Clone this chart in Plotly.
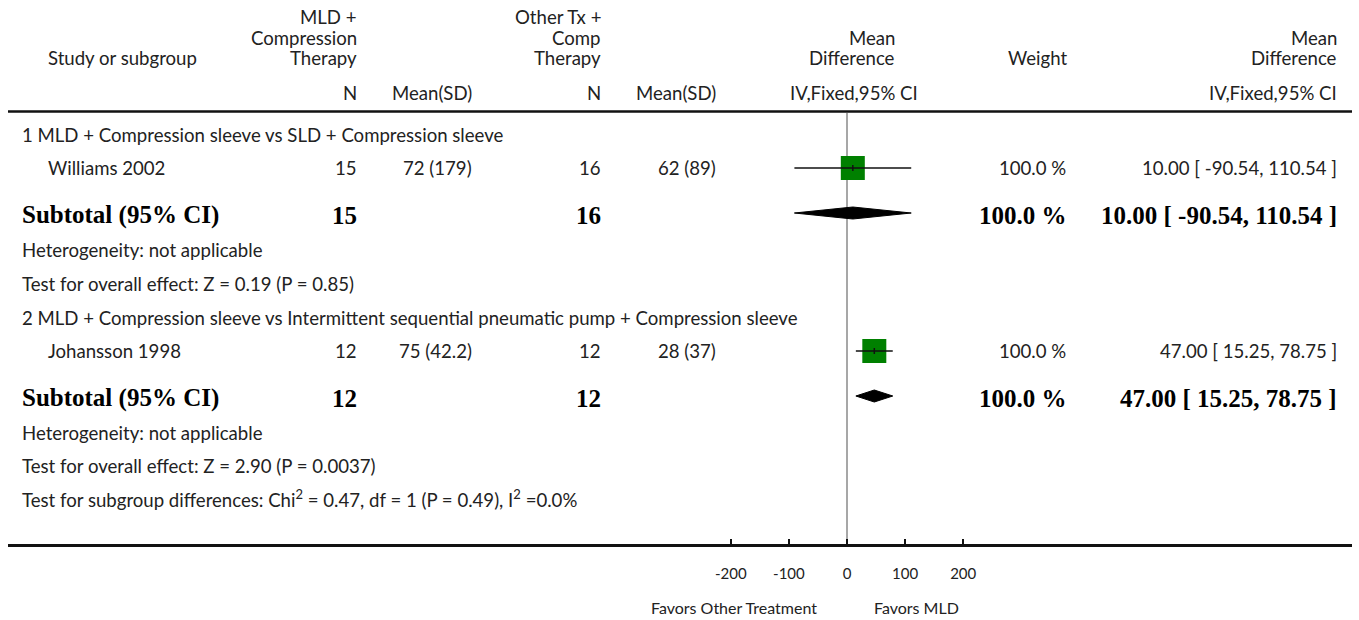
import plotly.graph_objects as go

# ---------------- data ----------------
subgroup_titles = [
    "1 MLD + Compression sleeve vs SLD + Compression sleeve",
    "2 MLD + Compression sleeve vs Intermittent sequential pneumatic pump + Compression sleeve",
]
studies = ["Williams 2002", "Johansson 1998"]
mld_n = [15, 12]
mld_mean = [72, 75]
mld_sd = [179, 42.2]
oth_n = [16, 12]
oth_mean = [62, 28]
oth_sd = [89, 37]
md = [10.00, 47.00]
ci_low = [-90.54, 15.25]
ci_high = [110.54, 78.75]
weights = [100.0, 100.0]
sub_md = [10.00, 47.00]
sub_low = [-90.54, 15.25]
sub_high = [110.54, 78.75]
heterogeneity = ["Heterogeneity: not applicable", "Heterogeneity: not applicable"]
overall = ["Test for overall effect: Z = 0.19 (P = 0.85)",
           "Test for overall effect: Z = 2.90 (P = 0.0037)"]
subgroup_test = "Test for subgroup differences: Chi<sup>2</sup> = 0.47, df = 1 (P = 0.49), I<sup>2</sup> =0.0%"
tick_vals = [-200, -100, 0, 100, 200]
tick_text = ["-200", "-100", "0", "100", "200"]
favors_left = "Favors Other Treatment"
favors_right = "Favors MLD"

# ---------------- layout constants ----------------
W, H = 1359, 620
ZERO_PX = 847
PX_PER_UNIT = 0.581
SANS = "Lato"
SERIF = "Liberation Serif"
TXT = "#222222"
FS = 18.6
FSB = 25
PAD = 2

# row pixel positions (layout)
row_title = [135, 318]
row_study = [168, 351]
row_sub = [213, 396]
row_het = [250, 433]
row_over = [284, 466]
row_test = 498
top_line_y = 111.5
axis_y = 545.5

fig = go.Figure()
ann = []


def px(x):
    return x / W


def py(y):
    return 1 - y / H


def text(x, y, s, anchor="left", font=SANS, size=FS, color=TXT, bold=False):
    if anchor == "left":
        x -= PAD
    elif anchor == "right":
        x += PAD
    ann.append(dict(x=px(x), y=py(y), xref="paper", yref="paper", text=s, showarrow=False,
                    xanchor=anchor, yanchor="middle",
                    font=dict(family=font, size=size, color=color,
                              weight="bold" if bold else "normal")))


def fmt(v):
    return f"{v:g}"


# header
text(48, 58, "Study or subgroup")
for i, line in enumerate(["MLD +", "Compression", "Therapy"]):
    text(357, 17 + 20.5 * i, line, anchor="right")
for i, line in enumerate(["Other Tx +", "Comp", "Therapy"]):
    text(601, 17 + 20.5 * i, line, anchor="right")
text(357, 93, "N", anchor="right")
text(472, 93, "Mean(SD)", anchor="right")
text(601, 93, "N", anchor="right")
text(716, 93, "Mean(SD)", anchor="right")
text(895, 38, "Mean", anchor="right")
text(895, 58, "Difference", anchor="right")
text(918, 93, "IV,Fixed,95% CI", anchor="right")
text(1067, 58, "Weight", anchor="right")
text(1337, 38, "Mean", anchor="right")
text(1337, 58, "Difference", anchor="right")
text(1337, 93, "IV,Fixed,95% CI", anchor="right")

for g in range(2):
    text(22, row_title[g], subgroup_titles[g])
    ys = row_study[g]
    text(48, ys, studies[g])
    text(357, ys, str(mld_n[g]), anchor="right")
    text(472, ys, f"{fmt(mld_mean[g])} ({fmt(mld_sd[g])})", anchor="right")
    text(601, ys, str(oth_n[g]), anchor="right")
    text(716, ys, f"{fmt(oth_mean[g])} ({fmt(oth_sd[g])})", anchor="right")
    text(1066, ys, f"{weights[g]:.1f} %", anchor="right")
    text(1337, ys, f"{md[g]:.2f} [ {ci_low[g]:.2f}, {ci_high[g]:.2f} ]", anchor="right")

    yb = row_sub[g] + 2
    text(22, yb, "Subtotal (95% CI)", font=SERIF, size=FSB, color="#000", bold=True)
    text(357, yb, str(mld_n[g]), anchor="right", font=SERIF, size=FSB, color="#000", bold=True)
    text(601, yb, str(oth_n[g]), anchor="right", font=SERIF, size=FSB, color="#000", bold=True)
    text(1067, yb, f"{weights[g]:.1f} %", anchor="right", font=SERIF, size=FSB, color="#000", bold=True)
    text(1337, yb, f"{sub_md[g]:.2f} [ {sub_low[g]:.2f}, {sub_high[g]:.2f} ]", anchor="right",
         font=SERIF, size=FSB, color="#000", bold=True)

    text(22, row_het[g], heterogeneity[g])
    text(22, row_over[g], overall[g])

text(22, row_test, subgroup_test)

# favors labels
text(734, 607, favors_left, anchor="center", size=16)
text(916, 607, favors_right, anchor="center", size=16)

# ---------------- forest marks ----------------
fig.add_trace(go.Scatter(x=md, y=row_study, mode="markers",
                         marker=dict(symbol="square", size=24, color="#008000",
                                     line=dict(width=0)),
                         hoverinfo="skip", showlegend=False))
for g in range(2):
    fig.add_trace(go.Scatter(x=[ci_low[g], ci_high[g]], y=[row_study[g], row_study[g]],
                             mode="lines", line=dict(color="#111", width=1.5),
                             hoverinfo="skip", showlegend=False))
    fig.add_trace(go.Scatter(x=[md[g], md[g]], y=[row_study[g] - 3, row_study[g] + 3],
                             mode="lines", line=dict(color="#111", width=1.5),
                             hoverinfo="skip", showlegend=False))
    yc = row_sub[g]
    fig.add_trace(go.Scatter(x=[sub_low[g], sub_md[g], sub_high[g], sub_md[g], sub_low[g]],
                             y=[yc, yc - 6, yc, yc + 6, yc],
                             mode="lines", fill="toself", fillcolor="#000",
                             line=dict(color="#000", width=1),
                             hoverinfo="skip", showlegend=False))

shapes = [
    dict(type="line", xref="x", yref="y", x0=0, x1=0, y0=113, y1=axis_y,
         line=dict(color="#8a8a8a", width=1.5), layer="below"),
    dict(type="line", xref="paper", yref="y", x0=px(8), x1=px(1352), y0=top_line_y, y1=top_line_y,
         line=dict(color="#111", width=2.5)),
    dict(type="line", xref="paper", yref="y", x0=px(8), x1=px(1352), y0=axis_y, y1=axis_y,
         line=dict(color="#111", width=3)),
]

fig.update_layout(
    width=W, height=H,
    margin=dict(l=0, r=0, t=0, b=0),
    paper_bgcolor="white", plot_bgcolor="white",
    annotations=ann, shapes=shapes,
    xaxis=dict(domain=[0, 1], range=[-ZERO_PX / PX_PER_UNIT, (W - ZERO_PX) / PX_PER_UNIT],
               anchor="free", position=1 - axis_y / H,
               tickvals=tick_vals, ticktext=tick_text, ticks="inside", ticklen=7, tickwidth=2,
               tickcolor="#111", showline=False, showgrid=False, zeroline=False,
               tickfont=dict(family=SANS, size=15, color=TXT), ticklabelstandoff=17),
    yaxis=dict(domain=[0, 1], range=[H, 0], visible=False, showgrid=False, zeroline=False),
)

fig.write_html("out.html", config={"displayModeBar": False},
               post_script="document.body.style.margin='0';")
